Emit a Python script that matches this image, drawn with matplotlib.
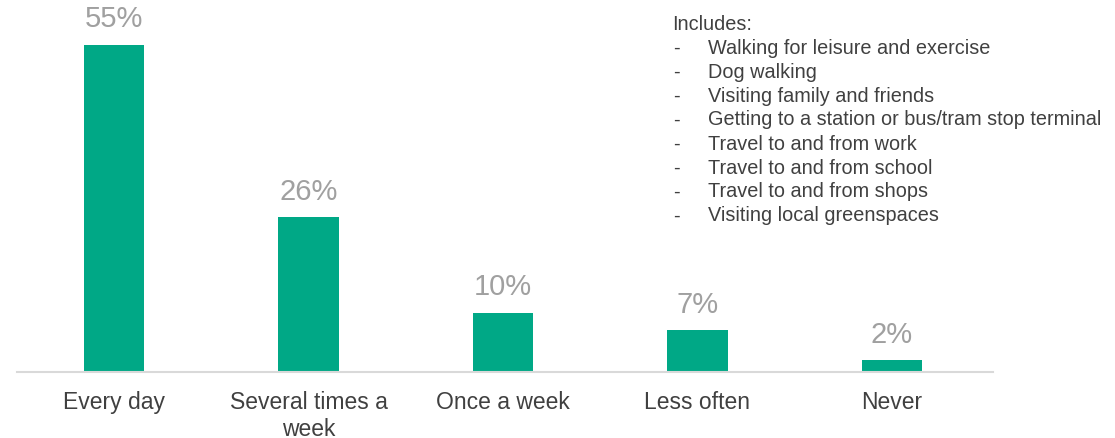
import matplotlib.pyplot as plt

plt.rcParams['font.family'] = ['Liberation Sans', 'DejaVu Sans']

categories = ["Every day", "Several times a\nweek", "Once a week", "Less often", "Never"]
values = [55, 26, 10, 7, 2]
includes = [
    "Walking for leisure and exercise",
    "Dog walking",
    "Visiting family and friends",
    "Getting to a station or bus/tram stop terminal",
    "Travel to and from work",
    "Travel to and from school",
    "Travel to and from shops",
    "Visiting local greenspaces",
]

fig = plt.figure(figsize=(11.15, 4.39), dpi=100)
ax = fig.add_axes([17 / 1115, 1 - 373 / 439, (993 - 17) / 1115, 373 / 439])

x = range(len(categories))
bars = ax.bar(x, values, width=0.31, color='#00a886')
for xi, v in zip(x, values):
    ax.annotate(f"{v}%", (xi, v), xytext=(0, 9), textcoords='offset points',
                ha='center', va='bottom', fontsize=21, color='#a0a0a0')

ax.set_xlim(-0.5, 4.52)
ax.set_ylim(0, 62.7)
ax.set_xticks(list(x))
ax.set_xticklabels(categories, fontsize=16.5, color='#404040', linespacing=1.2)
ax.tick_params(axis='x', length=0, pad=13)
ax.set_yticks([])
for s in ['top', 'right', 'left']:
    ax.spines[s].set_visible(False)
ax.spines['bottom'].set_color('#d9d9d9')
ax.spines['bottom'].set_linewidth(1.5)

# notes box in the top right
fs = 14.3
fig.text(672 / 1115, 1 - 24 / 439, "Includes:", fontsize=fs, color='#404040', va='center')
for i, item in enumerate(includes):
    y = 1 - (48 + 24 * i) / 439
    fig.text(673 / 1115, y, "-", fontsize=fs, color='#404040', va='center')
    fig.text(708 / 1115, y, item, fontsize=fs, color='#404040', va='center')

fig.savefig("out.png", dpi=100)
